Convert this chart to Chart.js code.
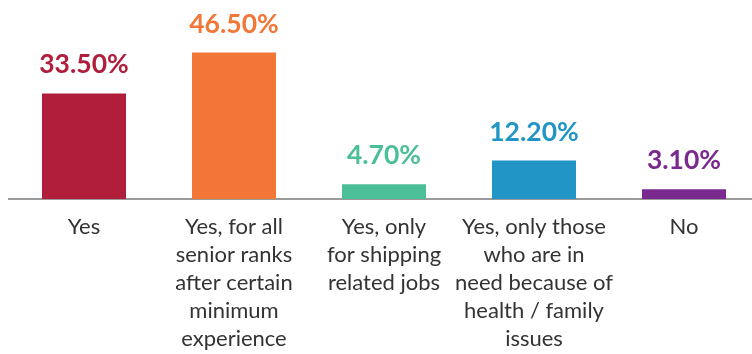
<!DOCTYPE html>
<html>
<head>
<meta charset="utf-8">
<script src="https://cdn.jsdelivr.net/npm/chart.js@4/dist/chart.umd.min.js"></script>
<style>
  html, body { margin: 0; padding: 0; background: #fff; overflow: hidden; }
</style>
</head>
<body>
<canvas id="chart" width="760" height="354"></canvas>
<script>
// answers and their share of respondents (%)
const categories = [
  ['Yes'],
  ['Yes, for all', 'senior ranks', 'after certain', 'minimum', 'experience'],
  ['Yes, only', 'for shipping', 'related jobs'],
  ['Yes, only those', 'who are in', 'need because of', 'health / family', 'issues'],
  ['No']
];
const shares = [33.5, 46.5, 4.7, 12.2, 3.1];
const barColors = ['#B01E3C', '#F27636', '#4BBF98', '#2196C6', '#7A2A8E'];

// percentage written above each bar, same colour as the bar
const valueLabels = {
  id: 'valueLabels',
  afterDatasetsDraw(chart) {
    const ctx = chart.ctx;
    const meta = chart.getDatasetMeta(0);
    ctx.save();
    ctx.font = 'bold 26.5px Lato';
    ctx.textAlign = 'center';
    ctx.textBaseline = 'alphabetic';
    meta.data.forEach((bar, i) => {
      ctx.fillStyle = barColors[i];
      ctx.fillText(shares[i].toFixed(2) + '%', bar.x, bar.y - 20);
    });
    ctx.restore();
  }
};

const ctx = document.getElementById('chart').getContext('2d');
new Chart(ctx, {
  type: 'bar',
  data: {
    labels: categories,
    datasets: [{
      data: shares,
      backgroundColor: barColors,
      borderWidth: 0,
      categoryPercentage: 1,
      barPercentage: 0.56
    }]
  },
  options: {
    responsive: false,
    animation: false,
    layout: { padding: { top: 10, left: 9, right: 1, bottom: 0 } },
    plugins: {
      legend: { display: false },
      tooltip: { enabled: false }
    },
    scales: {
      x: {
        grid: { display: false },
        border: { display: true, color: '#9a9a9a', width: 2 },
        ticks: {
          color: '#333',
          padding: 6,
          maxRotation: 0,
          autoSkip: false,
          font: { family: 'Lato', size: 22, lineHeight: 1.27 }
        },
        afterFit(scale) { scale.height = 155; }
      },
      y: {
        display: false,
        min: 0,
        max: 60
      }
    }
  },
  plugins: [valueLabels]
});
</script>
</body>
</html>
